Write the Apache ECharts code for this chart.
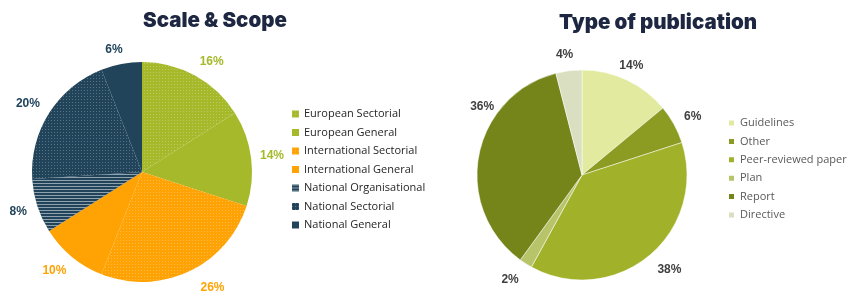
<!DOCTYPE html>
<html><head><meta charset="utf-8">
<script src="https://cdn.jsdelivr.net/npm/echarts@6/dist/echarts.min.js"></script>
<style>html,body{margin:0;padding:0;background:#fff}#c{width:849px;height:306px}</style>
</head><body><div id="c"></div>
<script>
const scaleCategories = ['European Sectorial','European General','International Sectorial','International General','National Organisational','National Sectorial','National General'];
const scaleValues = [16, 14, 26, 10, 8, 20, 6];
const pubCategories = ['Guidelines','Other','Peer-reviewed paper','Plan','Report','Directive'];
const pubValues = [14, 6, 38, 2, 36, 4];

const green = '#A6B92B', orange = '#FFA305', navy = '#21445B';
const dots = {symbol:'rect', symbolSize:1, color:'rgba(255,255,255,0.25)', dashArrayX:[1,2], dashArrayY:[1,2], rotation:0};
const stripes = {symbol:'rect', symbolSize:1, color:'rgba(255,255,255,0.5)', dashArrayX:[[1,0]], dashArrayY:[1,1.5], rotation:0};
const scaleColors = [green, green, orange, orange, navy, navy, navy];
const scaleDecals = [dots, null, dots, null, stripes, dots, null];
const scaleLabelOffsets = [[8,2],[3,0],[16,0],[-6,0],[-2,0],[-6,0],[-4,3]];
const pubColors = ['#E2EA9F','#8C9B22','#A1B12A','#B7C46A','#768519','#D9DFC0'];
const pubLabelOffsets = [[-3,2],[3,1],[9,0],[-6,1],[21,-45],[-2,2]];

const labelFont = {fontFamily:'Liberation Sans', fontWeight:'bold', fontSize:12};

const chart = echarts.init(document.getElementById('c'), null, {renderer:'canvas'});
chart.setOption({
  animation:false,
  title:[
    {text:'Scale & Scope', left:210, top:5, textAlign:'center', textStyle:{fontFamily:'Inter', fontWeight:900, fontSize:20.5, color:'#1E2742'}},
    {text:'Type of publication', left:653, top:7, textAlign:'center', textStyle:{fontFamily:'Inter', fontWeight:900, fontSize:20.5, color:'#1E2742'}}
  ],
  legend:[
    {data:scaleCategories, orient:'vertical', left:292, top:108, padding:0, itemWidth:7, itemHeight:7, itemGap:6.5, icon:'rect',
     textStyle:{fontFamily:'Open Sans', fontSize:11, lineHeight:12, color:'#262626'}},
    {data:pubCategories, orient:'vertical', left:727, top:117, padding:0, itemWidth:7, itemHeight:7, itemGap:6.4, icon:'rect',
     textStyle:{fontFamily:'Open Sans', fontSize:11, lineHeight:12, color:'#595959'}}
  ],
  series:[
    {type:'pie', center:[142,172], radius:110, startAngle:90, clockwise:true, silent:true,
     label:{show:false}, labelLine:{show:false},
     data: scaleCategories.map((n,i)=>({name:n, value:scaleValues[i],
       itemStyle:{color:scaleColors[i], decal:scaleDecals[i]||undefined}}))},
    {type:'pie', center:[582,175], radius:105, startAngle:90, clockwise:true, silent:true,
     itemStyle:{borderColor:'#fff', borderWidth:0.5},
     label:{show:false}, labelLine:{show:false},
     data: pubCategories.map((n,i)=>({name:n, value:pubValues[i], itemStyle:{color:pubColors[i]}}))},
    {type:'pie', center:[142,172], radius:[110,140], startAngle:90, clockwise:true, silent:true, legendHoverLink:false,
     itemStyle:{color:'rgba(0,0,0,0)'},
     label:Object.assign({show:true, position:'inside', formatter:'{c}%'}, labelFont), labelLine:{show:false},
     data: scaleCategories.map((n,i)=>({name:n, value:scaleValues[i], itemStyle:{color:'rgba(0,0,0,0)'},
       label:{color:scaleColors[i], offset:scaleLabelOffsets[i]}}))},
    {type:'pie', center:[582,175], radius:[105,135], startAngle:90, clockwise:true, silent:true, legendHoverLink:false,
     itemStyle:{color:'rgba(0,0,0,0)'},
     label:Object.assign({show:true, position:'inside', formatter:'{c}%', color:'#404040'}, labelFont), labelLine:{show:false},
     data: pubCategories.map((n,i)=>({name:n, value:pubValues[i], itemStyle:{color:'rgba(0,0,0,0)'},
       label:{offset:pubLabelOffsets[i]}}))}
  ]
});
</script></body></html>
